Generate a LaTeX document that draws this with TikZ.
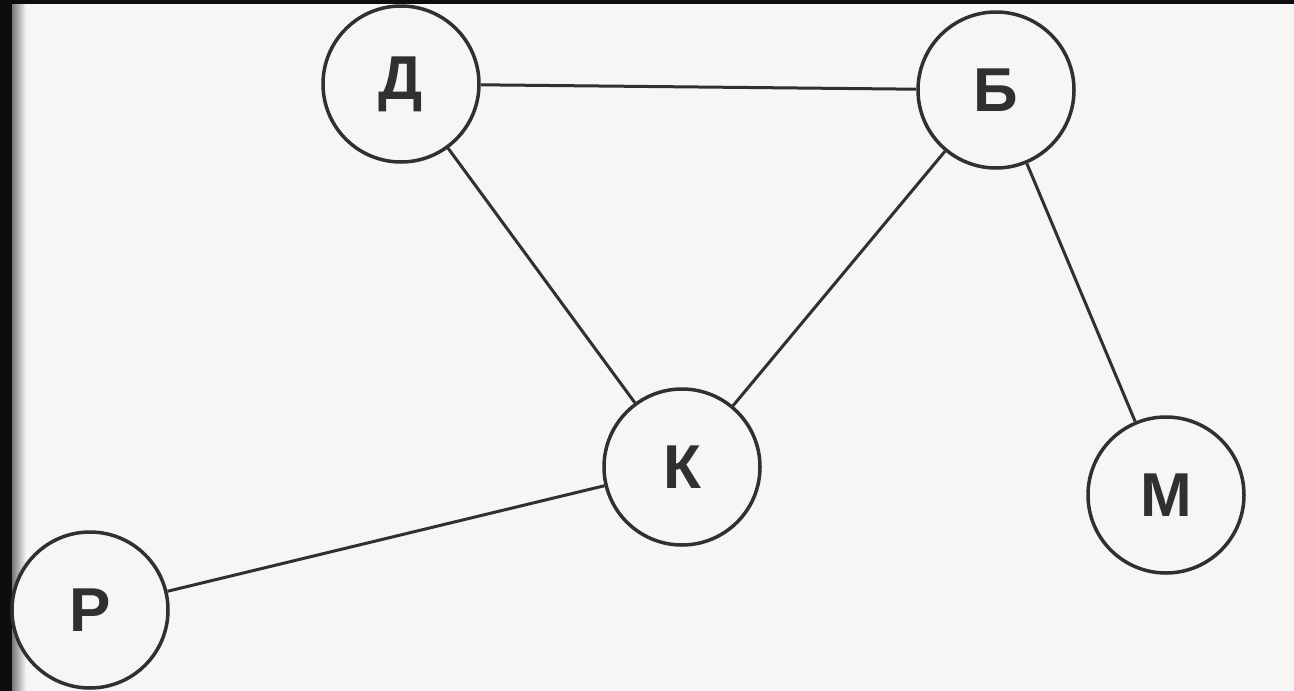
\documentclass[tikz,border=0pt]{standalone}
\usepackage{fontspec}
\setmainfont{Liberation Sans}
\definecolor{ink}{HTML}{303030}
\definecolor{paper}{HTML}{F6F6F4}
\begin{document}
\begin{tikzpicture}[x=1pt,y=-1pt,
  vtx/.style={circle, draw=ink, fill=paper, line width=3.5pt, minimum size=156pt, inner sep=0pt,
    font=\fontsize{62}{62}\selectfont\bfseries, text=ink},
  edge/.style={draw=ink, line width=3pt}]
\useasboundingbox (0,0) rectangle (1294,691);
\fill[paper] (0,0) rectangle (1294,691);
\shade[left color=black!95, right color=paper] (0,0) rectangle (26,691);
\fill[black!95] (0,0) rectangle (1294,4);
\fill[black!95] (0,0) rectangle (12,691);
\node[vtx] (D) at (401,84) {Д};
\node[vtx] (B) at (996,90) {Б};
\node[vtx] (K) at (682,467) {К};
\node[vtx] (M) at (1166,495) {М};
\node[vtx] (R) at (90,610) {Р};
\draw[edge] (D) -- (B);
\draw[edge] (D) -- (K);
\draw[edge] (B) -- (K);
\draw[edge] (B) -- (M);
\draw[edge] (R) -- (K);
\end{tikzpicture}
\end{document}
